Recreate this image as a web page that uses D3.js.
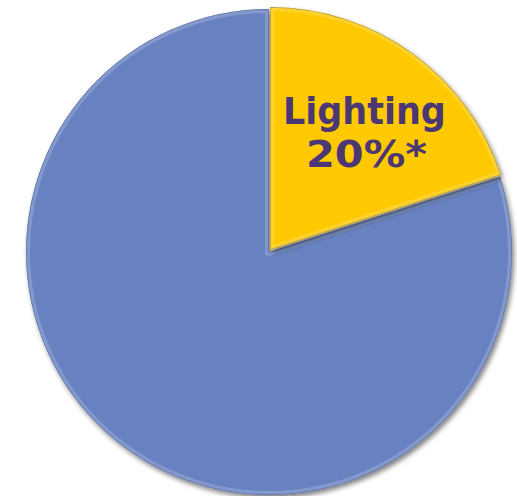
<!DOCTYPE html>
<html>
<head>
<meta charset="utf-8">
<script src="https://cdn.jsdelivr.net/npm/d3@7"></script>
<style>
  body { margin: 0; background: #fff; }
  svg { display: block; }
</style>
</head>
<body>
<div id="chart"></div>
<script>
let width = 517
let height = 496
let cx = 270, cy = 250, radius = 243

// data
const categories = ["Lighting", "Other"]
const values = [20, 80]
const labelLines = ["Lighting", "20%*"]
const colorScale = d3.scaleOrdinal().domain(categories).range(["#FFC905", "#6782C1"])

const svg = d3.select("#chart").append("svg").attr("width", width).attr("height", height)
const defs = svg.append("defs")

// soft drop shadow
const shadow = defs.append("filter").attr("id", "shadow").attr("x", "-10%").attr("y", "-10%").attr("width", "120%").attr("height", "120%")
shadow.append("feGaussianBlur").attr("in", "SourceAlpha").attr("stdDeviation", 2.5)
shadow.append("feOffset").attr("dx", 1.5).attr("dy", 3).attr("result", "off")
shadow.append("feComponentTransfer").append("feFuncA").attr("type", "linear").attr("slope", 0.5)
const merge = shadow.append("feMerge")
merge.append("feMergeNode")
merge.append("feMergeNode").attr("in", "SourceGraphic")

const pie = d3.pie().sort(null).value(d => d.value)
const arc = d3.arc().innerRadius(0).outerRadius(radius)
const labelArc = d3.arc().innerRadius(radius * 0.64).outerRadius(radius * 0.64)

const data = pie(categories.map((c, i) => ({ category: c, value: values[i] })))

const g = svg.append("g").attr("transform", `translate(${cx},${cy})`)

// draw the big slice first so the small one sits on top
const order = data.slice().reverse()

const slices = g.selectAll("g.slice")
  .data(order)
  .enter()
  .append("g")
  .attr("class", "slice")
  .attr("transform", d => {
    if (d.data.category !== "Lighting") return "translate(-1,2)"
    return "translate(0,0)"
  })

slices.each(function(d, i) {
  let s = d3.select(this)
  let id = "clip" + i
  defs.append("clipPath").attr("id", id).append("path").attr("d", arc(d))

  s.append("path")
    .attr("d", arc(d))
    .attr("fill", colorScale(d.data.category))
    .attr("filter", "url(#shadow)")

  // subtle bevel rim
  s.append("path")
    .attr("d", arc(d))
    .attr("fill", "none")
    .attr("stroke", "#ffffff")
    .attr("stroke-opacity", 0.18)
    .attr("stroke-width", 8)
    .attr("stroke-linejoin", "round")
    .attr("clip-path", `url(#${id})`)
  s.append("path")
    .attr("d", arc(d))
    .attr("fill", "none")
    .attr("stroke", "#1f2f5a")
    .attr("stroke-opacity", 0.35)
    .attr("stroke-width", 1.5)
    .attr("clip-path", `url(#${id})`)
})

// label on the small slice
let lab = data.find(d => d.data.category === "Lighting")
let [lx, ly] = labelArc.centroid(lab)
let widths = [163, 121]
g.append("text")
  .attr("font-family", "DejaVu Sans, Verdana, sans-serif")
  .attr("font-weight", "bold")
  .attr("font-size", 38)
  .attr("fill", "#4A3774")
  .attr("text-anchor", "middle")
  .selectAll("tspan")
  .data(labelLines)
  .enter()
  .append("tspan")
  .attr("x", (d, i) => lx + (i ? 5 : 3))
  .attr("y", (d, i) => ly + i * 43)
  .attr("textLength", (d, i) => widths[i])
  .attr("lengthAdjust", "spacingAndGlyphs")
  .text(d => d)
</script>
</body>
</html>
